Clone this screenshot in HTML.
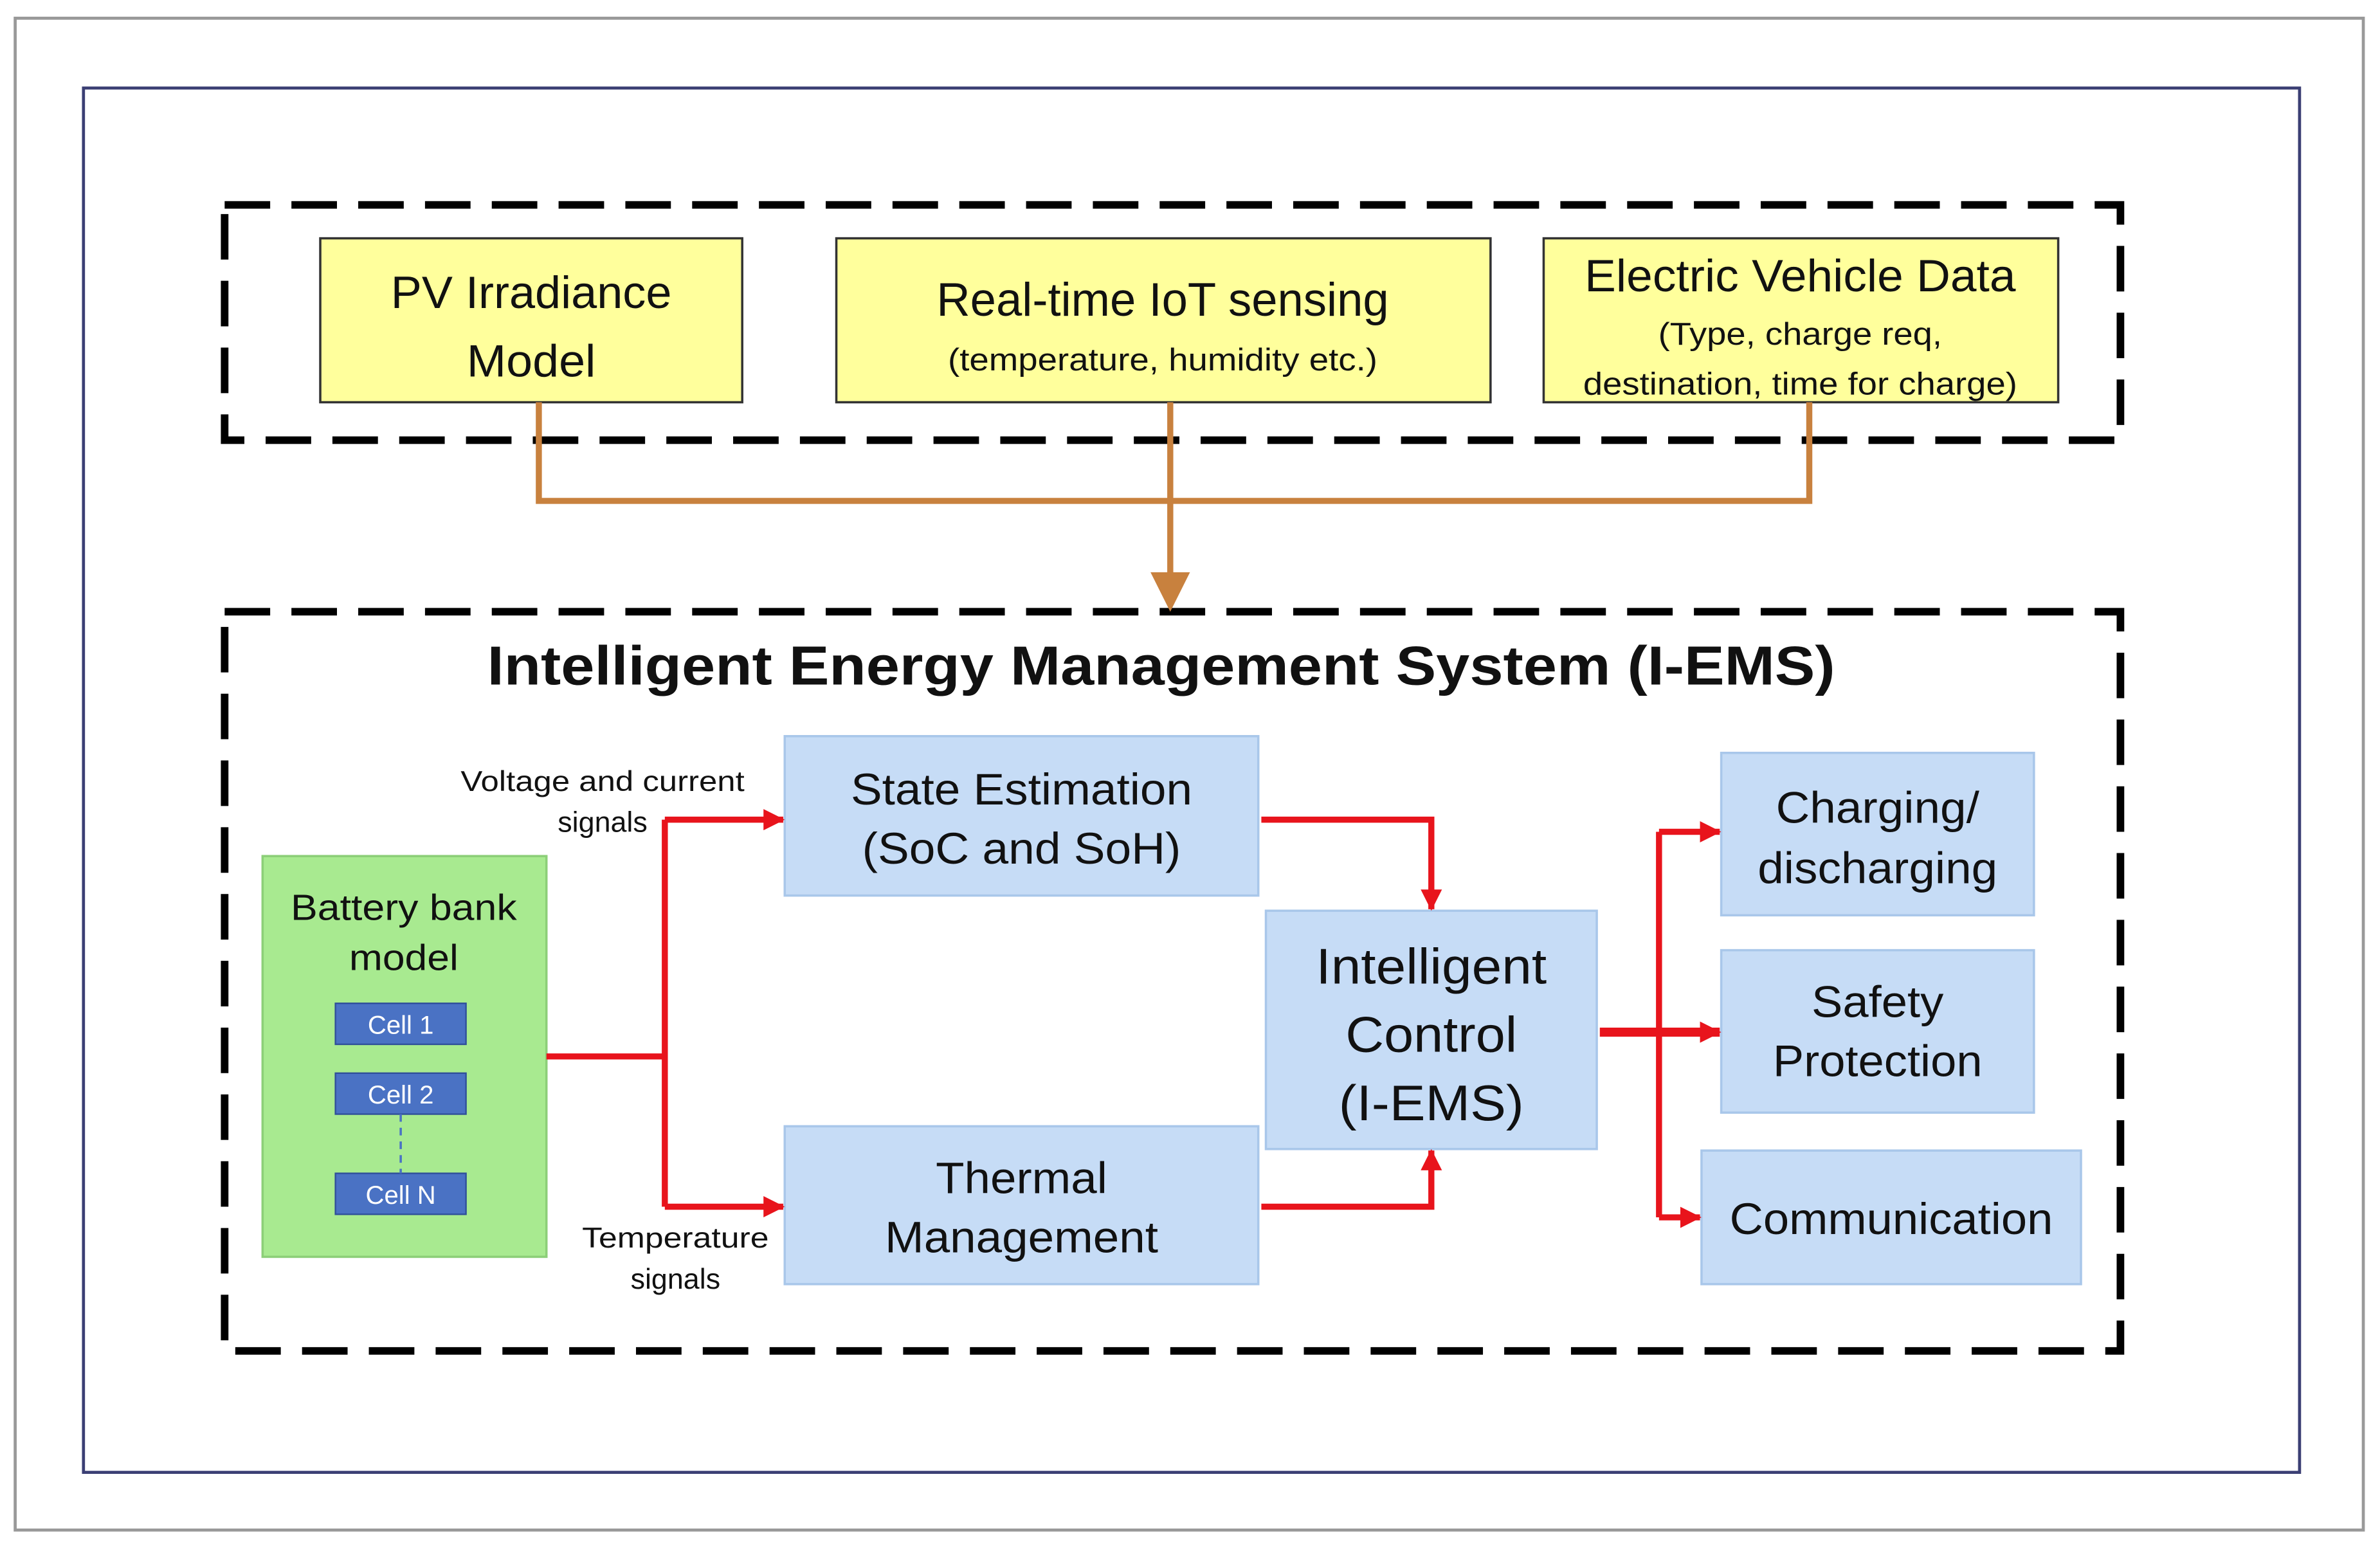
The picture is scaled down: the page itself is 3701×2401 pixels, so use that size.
<!DOCTYPE html>
<html><head><meta charset="utf-8"><style>
html,body{margin:0;padding:0;background:#fff}
svg{display:block}
text{font-family:"Liberation Sans",sans-serif}
</style></head><body>
<svg width="3701" height="2401" viewBox="0 0 1568 1017.2" preserveAspectRatio="none">
<defs>
<marker id="ar2" markerWidth="14" markerHeight="14" refX="13" refY="7" orient="auto" markerUnits="userSpaceOnUse"><path d="M0,0 L14,7 L0,14 z" fill="#e8141c"/></marker>
</defs>
<rect width="1568" height="1018" fill="#fff"/>
<rect x="10" y="12" width="1547" height="996" fill="none" stroke="#999" stroke-width="2"/>
<rect x="55" y="58" width="1460" height="912" fill="none" stroke="#3b3f74" stroke-width="2"/>
<rect x="148" y="135" width="1249" height="155" fill="none" stroke="#000" stroke-width="5" stroke-dasharray="30,14"/>
<rect x="148" y="403" width="1249" height="487" fill="none" stroke="#000" stroke-width="5" stroke-dasharray="30,14"/>
<g fill="#ffff9c" stroke="#333" stroke-width="1.5">
<rect x="211" y="157" width="278" height="108"/>
<rect x="551" y="157" width="431" height="108"/>
<rect x="1017" y="157" width="339" height="108"/>
</g>
<g text-anchor="middle" fill="#111">
<text x="350" y="203" font-size="30" textLength="185" lengthAdjust="spacingAndGlyphs">PV Irradiance</text>
<text x="350" y="248" font-size="30" textLength="85" lengthAdjust="spacingAndGlyphs">Model</text>
<text x="766" y="208" font-size="31" textLength="298" lengthAdjust="spacingAndGlyphs">Real-time IoT sensing</text>
<text x="766" y="244" font-size="21" textLength="283" lengthAdjust="spacingAndGlyphs">(temperature, humidity etc.)</text>
<text x="1186" y="192" font-size="30" textLength="284" lengthAdjust="spacingAndGlyphs">Electric Vehicle Data</text>
<text x="1186" y="227" font-size="21" textLength="187" lengthAdjust="spacingAndGlyphs">(Type, charge req,</text>
<text x="1186" y="260" font-size="21" textLength="286" lengthAdjust="spacingAndGlyphs">destination, time for charge)</text>
</g>
<g fill="none" stroke="#c8813e" stroke-width="4">
<path d="M355,265 V330 H1192 V265"/>
<path d="M771,265 V382"/>
</g>
<path d="M758,377 L784,377 L771,403 z" fill="#c8813e"/>
<text x="765" y="451" font-size="36" font-weight="bold" text-anchor="middle" fill="#111" textLength="888" lengthAdjust="spacingAndGlyphs">Intelligent Energy Management System (I-EMS)</text>
<g fill="#c6dcf6" stroke="#a9c7ea" stroke-width="1.5">
<rect x="517" y="485" width="312" height="105"/>
<rect x="517" y="742" width="312" height="104"/>
<rect x="834" y="600" width="218" height="157"/>
<rect x="1134" y="496" width="206" height="107"/>
<rect x="1134" y="626" width="206" height="107"/>
<rect x="1121" y="758" width="250" height="88"/>
</g>
<rect x="173" y="564" width="187" height="264" fill="#a8ea90" stroke="#8ccf78" stroke-width="1.5"/>
<g fill="#4a72c4" stroke="#2f4f9a" stroke-width="1">
<rect x="221" y="661" width="86" height="27"/>
<rect x="221" y="707" width="86" height="27"/>
<rect x="221" y="773" width="86" height="27"/>
</g>
<line x1="264" y1="734" x2="264" y2="773" stroke="#4a72c4" stroke-width="1.5" stroke-dasharray="5,4"/>
<g text-anchor="middle" fill="#111">
<text x="673" y="530" font-size="29" textLength="225" lengthAdjust="spacingAndGlyphs">State Estimation</text>
<text x="673" y="569" font-size="29" textLength="210" lengthAdjust="spacingAndGlyphs">(SoC and SoH)</text>
<text x="673" y="786" font-size="29" textLength="113" lengthAdjust="spacingAndGlyphs">Thermal</text>
<text x="673" y="825" font-size="29" textLength="180" lengthAdjust="spacingAndGlyphs">Management</text>
<text x="943" y="648" font-size="33" textLength="152" lengthAdjust="spacingAndGlyphs">Intelligent</text>
<text x="943" y="693" font-size="33" textLength="113" lengthAdjust="spacingAndGlyphs">Control</text>
<text x="943" y="738" font-size="33" textLength="122" lengthAdjust="spacingAndGlyphs">(I-EMS)</text>
<text x="1237" y="542" font-size="29" textLength="134" lengthAdjust="spacingAndGlyphs">Charging/</text>
<text x="1237" y="582" font-size="29" textLength="158" lengthAdjust="spacingAndGlyphs">discharging</text>
<text x="1237" y="670" font-size="29" textLength="87" lengthAdjust="spacingAndGlyphs">Safety</text>
<text x="1237" y="709" font-size="29" textLength="138" lengthAdjust="spacingAndGlyphs">Protection</text>
<text x="1246" y="813" font-size="29" textLength="213" lengthAdjust="spacingAndGlyphs">Communication</text>
<text x="266" y="606" font-size="24" textLength="149" lengthAdjust="spacingAndGlyphs">Battery bank</text>
<text x="266" y="639" font-size="24" textLength="72" lengthAdjust="spacingAndGlyphs">model</text>
<g fill="#fff" font-size="17">
<text x="264" y="681">Cell 1</text>
<text x="264" y="727">Cell 2</text>
<text x="264" y="793">Cell N</text>
</g>
<text x="397" y="521" font-size="19" textLength="187" lengthAdjust="spacingAndGlyphs">Voltage and current</text>
<text x="397" y="548" font-size="19">signals</text>
<text x="445" y="822" font-size="19" textLength="123" lengthAdjust="spacingAndGlyphs">Temperature</text>
<text x="445" y="849" font-size="19">signals</text>
</g>
<g fill="none" stroke="#e8141c" stroke-width="4">
<path d="M360,696 H438"/>
<path d="M438,540 V795"/>
<path d="M438,540 H516" marker-end="url(#ar2)"/>
<path d="M438,795 H516" marker-end="url(#ar2)"/>
<path d="M831,540 H943 V599" marker-end="url(#ar2)"/>
<path d="M831,795 H943 V758" marker-end="url(#ar2)"/>
<path d="M1054,680 H1133" stroke-width="6" marker-end="url(#ar2)"/>
<path d="M1093,548 V802"/>
<path d="M1093,548 H1133" marker-end="url(#ar2)"/>
<path d="M1093,802 H1120" marker-end="url(#ar2)"/>
</g>
</svg>
</body></html>
